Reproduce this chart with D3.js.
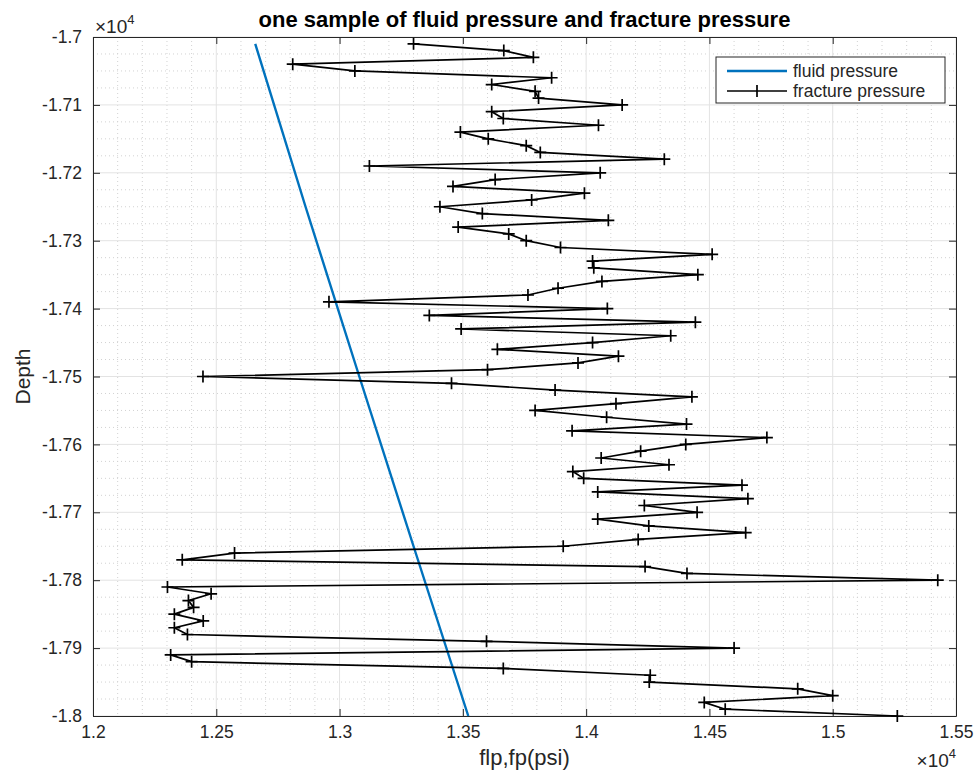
<!DOCTYPE html>
<html>
<head>
<meta charset="utf-8">
<script src="https://cdn.jsdelivr.net/npm/d3@7"></script>
<style>
  body { margin: 0; background: #fff; }
  svg text { font-family: "Liberation Sans", Arial, Helvetica, sans-serif; fill: #262626; }
</style>
</head>
<body>
<div id="chart"></div>
<script>
// depth of each sample (ft)
var depths = [
  -17010, -17020, -17030, -17040, -17050, -17060, -17070, -17080, -17090, -17100,
  -17110, -17120, -17130, -17140, -17150, -17160, -17170, -17180, -17190, -17200,
  -17210, -17220, -17230, -17240, -17250, -17260, -17270, -17280, -17290, -17300,
  -17310, -17320, -17330, -17340, -17350, -17360, -17370, -17380, -17390, -17400,
  -17410, -17420, -17430, -17440, -17450, -17460, -17470, -17480, -17490, -17500,
  -17510, -17520, -17530, -17540, -17550, -17560, -17570, -17580, -17590, -17600,
  -17610, -17620, -17630, -17640, -17650, -17660, -17670, -17680, -17690, -17700,
  -17710, -17720, -17730, -17740, -17750, -17760, -17770, -17780, -17790, -17800,
  -17810, -17820, -17830, -17840, -17850, -17860, -17870, -17880, -17890, -17900,
  -17910, -17920, -17930, -17940, -17950, -17960, -17970, -17980, -17990, -18000
];

// fracture pressure (psi), one per depth
var fracturePressure = [
  13300, 13666, 13786, 12810, 13062, 13860, 13617, 13793, 13807, 14146,
  13617, 13664, 14050, 13490, 13603, 13757, 13814, 14317, 13121, 14057,
  13631, 13460, 13993, 13779, 13407, 13579, 14090, 13481, 13686, 13757,
  13896, 14511, 14026, 14031, 14453, 14064, 13886, 13764, 12957, 14086,
  13364, 14443, 13493, 14343, 14026, 13640, 14131, 13967, 13600, 12446,
  13454, 13874, 14429, 14121, 13793, 14083, 14407, 13943, 14733, 14404,
  14221, 14061, 14336, 13946, 13990, 14632, 14047, 14656, 14236, 14450,
  14047, 14254, 14647, 14211, 13907, 12574, 12362, 14239, 14409, 15426,
  12302, 12479, 12387, 12408, 12330, 12447, 12330, 12383, 13596, 14600,
  12315, 12400, 13664, 14260, 14256, 14858, 15000, 14479, 14564, 15262
];

// fluid pressure line (straight), read at a few depths
var fluidDepths = [-17010, -17250, -17500, -17750, -18000];
var fluidPressure = [12658, 12862, 13080, 13300, 13522];

var xTickValues = [12000, 12500, 13000, 13500, 14000, 14500, 15000, 15500];
var xTickLabels = ["1.2", "1.25", "1.3", "1.35", "1.4", "1.45", "1.5", "1.55"];
var yTickValues = [-18000, -17900, -17800, -17700, -17600, -17500, -17400, -17300, -17200, -17100, -17000];
var yTickLabels = ["-1.8", "-1.79", "-1.78", "-1.77", "-1.76", "-1.75", "-1.74", "-1.73", "-1.72", "-1.71", "-1.7"];

var seriesNames = ["fluid pressure", "fracture pressure"];

var W = 977, H = 774;
var margin = {top: 37, right: 21, bottom: 58, left: 93},
    width = W - margin.left - margin.right,
    height = H - margin.top - margin.bottom;

var svg = d3.select("#chart").append("svg")
    .attr("width", W)
    .attr("height", H);

var g = svg.append("g")
    .attr("transform", "translate(" + margin.left + "," + margin.top + ")");

var x = d3.scaleLinear().domain([12000, 15500]).range([0, width]);
var y = d3.scaleLinear().domain([-18000, -17000]).range([height, 0]);

// minor grid (dotted)
var xMinor = d3.range(12000, 15500, 100).filter(function (v) { return v % 500 !== 0; });
var yMinor = d3.range(-18000, -17000, 25).filter(function (v) { return v % 100 !== 0; });

g.selectAll(".xminor").data(xMinor).enter().append("line")
    .attr("x1", d => x(d)).attr("x2", d => x(d))
    .attr("y1", 0).attr("y2", height)
    .style("stroke", "#d2d2d2").style("stroke-width", 1)
    .style("stroke-dasharray", "1,3");
g.selectAll(".yminor").data(yMinor).enter().append("line")
    .attr("y1", d => y(d)).attr("y2", d => y(d))
    .attr("x1", 0).attr("x2", width)
    .style("stroke", "#d2d2d2").style("stroke-width", 1)
    .style("stroke-dasharray", "1,3");

// major grid
g.selectAll(".xmajor").data(xTickValues).enter().append("line")
    .attr("x1", d => x(d)).attr("x2", d => x(d))
    .attr("y1", 0).attr("y2", height)
    .style("stroke", "#e3e3e3").style("stroke-width", 1);
g.selectAll(".ymajor").data(yTickValues).enter().append("line")
    .attr("y1", d => y(d)).attr("y2", d => y(d))
    .attr("x1", 0).attr("x2", width)
    .style("stroke", "#e3e3e3").style("stroke-width", 1);

// axes
g.append("g")
    .attr("transform", "translate(0," + height + ")")
    .call(d3.axisBottom(x).tickValues(xTickValues)
        .tickFormat((d, i) => xTickLabels[i])
        .tickSizeInner(-7).tickSizeOuter(0).tickPadding(10));
g.append("g")
    .call(d3.axisLeft(y).tickValues(yTickValues)
        .tickFormat((d, i) => yTickLabels[i])
        .tickSizeInner(-7).tickSizeOuter(0).tickPadding(11));
g.append("g")
    .call(d3.axisTop(x).tickValues(xTickValues).tickFormat("")
        .tickSizeInner(-7).tickSizeOuter(0));
g.append("g")
    .attr("transform", "translate(" + width + ",0)")
    .call(d3.axisRight(y).tickValues(yTickValues).tickFormat("")
        .tickSizeInner(-7).tickSizeOuter(0));

g.selectAll(".domain").style("stroke", "#262626");
g.selectAll(".tick line").style("stroke", "#262626");
g.selectAll(".tick text").style("font-size", "17.5px").style("fill", "#262626")
    .style("font-family", "'Liberation Sans', Arial, sans-serif");

// fluid pressure
var fluid = fluidDepths.map((d, i) => ({depth: d, p: fluidPressure[i]}));
g.append("path")
    .datum(fluid)
    .attr("fill", "none")
    .attr("stroke", "#0072BD")
    .attr("stroke-width", 2.4)
    .attr("d", d3.line().x(d => x(d.p)).y(d => y(d.depth)));

// fracture pressure
var frac = depths.map((d, i) => ({depth: d, p: fracturePressure[i]}));
g.append("path")
    .datum(frac)
    .attr("fill", "none")
    .attr("stroke", "#000")
    .attr("stroke-width", 1.7)
    .attr("stroke-linejoin", "round")
    .attr("d", d3.line().x(d => x(d.p)).y(d => y(d.depth)));

var cross = 6;
g.selectAll(".mark").data(frac).enter().append("path")
    .attr("d", function (d) {
        var cx = x(d.p), cy = y(d.depth);
        return "M" + (cx - cross) + "," + cy + "H" + (cx + cross) +
               "M" + cx + "," + (cy - cross) + "V" + (cy + cross);
    })
    .attr("stroke", "#000")
    .attr("stroke-width", 1.7);

// title and labels
svg.append("text")
    .attr("x", margin.left + width / 2).attr("y", 27)
    .attr("text-anchor", "middle")
    .style("font-size", "22px").style("font-weight", "bold")
    .style("fill", "#000")
    .text("one sample of fluid pressure and fracture pressure");

svg.append("text")
    .attr("x", margin.left + width / 2).attr("y", 765)
    .attr("text-anchor", "middle")
    .style("font-size", "22px")
    .text("flp,fp(psi)");

svg.append("text")
    .attr("transform", "translate(30," + (margin.top + height / 2) + ") rotate(-90)")
    .attr("text-anchor", "middle")
    .style("font-size", "21px")
    .text("Depth");

// exponent labels
function exponent(xPos, yPos, anchor) {
    var t = svg.append("text")
        .attr("x", xPos).attr("y", yPos)
        .attr("text-anchor", anchor)
        .style("font-size", "19px");
    t.append("tspan").text("\u00d710");
    t.append("tspan").attr("dy", -9).style("font-size", "13px").text("4");
}
exponent(95, 33, "start");
exponent(956, 767, "end");

// legend
var lg = svg.append("g").attr("transform", "translate(716,57)");
lg.append("rect")
    .attr("width", 229).attr("height", 46)
    .attr("fill", "#fff").attr("stroke", "#262626").attr("stroke-width", 1);
var legendColors = ["#0072BD", "#000"];
seriesNames.forEach(function (name, i) {
    var ly = 14 + i * 20;
    lg.append("line")
        .attr("x1", 11).attr("x2", 71).attr("y1", ly).attr("y2", ly)
        .attr("stroke", legendColors[i]).attr("stroke-width", i === 0 ? 2.4 : 1.7);
    if (i === 1) {
        lg.append("line")
            .attr("x1", 41).attr("x2", 41).attr("y1", ly - cross).attr("y2", ly + cross)
            .attr("stroke", "#000").attr("stroke-width", 1.7);
    }
    lg.append("text")
        .attr("x", 77).attr("y", ly + 6)
        .style("font-size", "17.5px")
        .text(name);
});
</script>
</body>
</html>
